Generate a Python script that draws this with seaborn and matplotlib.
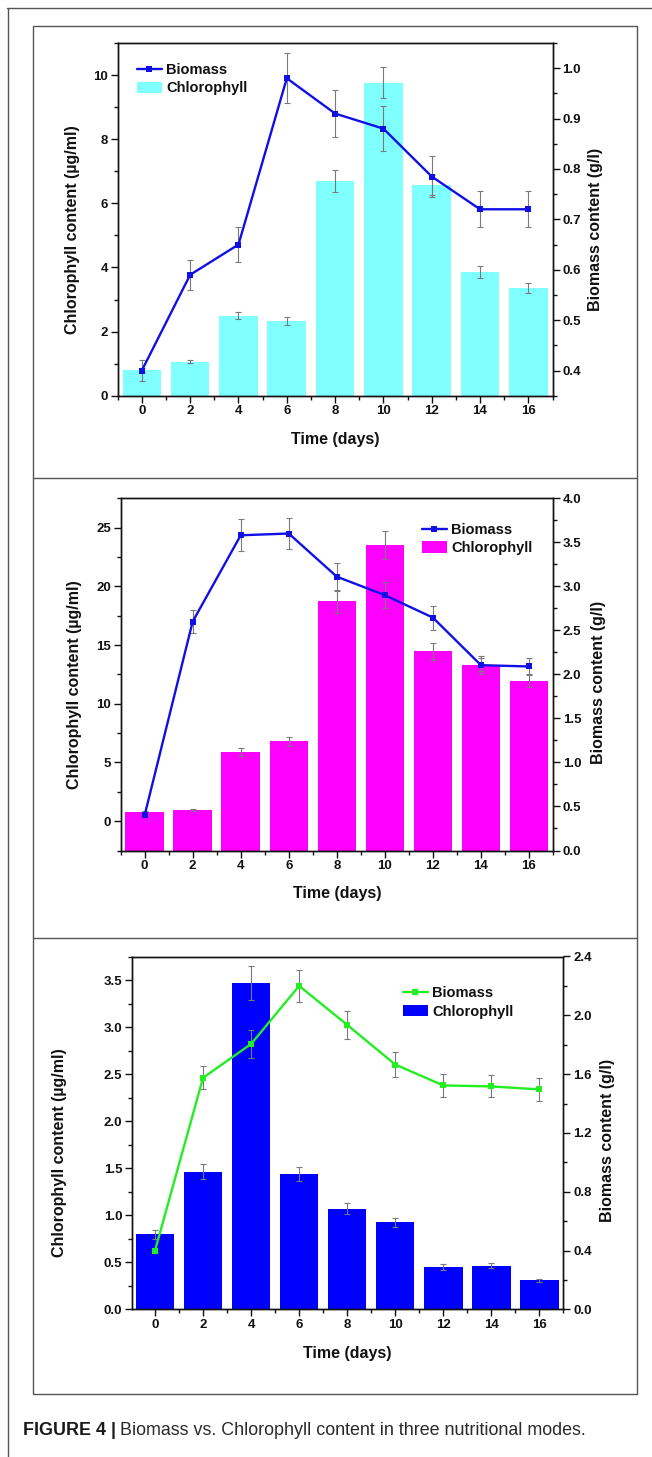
import numpy as np
import pandas as pd
import seaborn as sns
import matplotlib
matplotlib.use("Agg")
import matplotlib.pyplot as plt
from matplotlib.ticker import MultipleLocator, FormatStrFormatter
from matplotlib.lines import Line2D
from matplotlib.patches import Rectangle
from matplotlib import font_manager

# ---------------- data ----------------
days = [0, 2, 4, 6, 8, 10, 12, 14, 16]

# Panel A (cyan bars)
chl_a = [0.80, 1.06, 2.50, 2.32, 6.70, 9.76, 6.57, 3.86, 3.35]
chl_a_err = [0.05, 0.05, 0.12, 0.13, 0.35, 0.49, 0.30, 0.19, 0.16]
bio_a = [0.40, 0.59, 0.65, 0.98, 0.91, 0.88, 0.785, 0.72, 0.72]
bio_a_err = [0.02, 0.03, 0.034, 0.05, 0.046, 0.044, 0.04, 0.036, 0.036]

# Panel B (magenta bars)
chl_b = [0.80, 0.95, 5.85, 6.81, 18.72, 23.55, 14.47, 13.34, 11.97]
chl_b_err = [0.05, 0.05, 0.34, 0.38, 0.98, 1.18, 0.74, 0.55, 0.57]
bio_b = [0.40, 2.60, 3.58, 3.60, 3.11, 2.90, 2.645, 2.105, 2.09]
bio_b_err = [0.02, 0.13, 0.18, 0.18, 0.16, 0.15, 0.136, 0.10, 0.10]

# Panel C (blue bars)
chl_c = [0.80, 1.46, 3.47, 1.44, 1.07, 0.925, 0.45, 0.463, 0.31]
chl_c_err = [0.048, 0.08, 0.18, 0.074, 0.057, 0.05, 0.027, 0.025, 0.015]
bio_c = [0.40, 1.575, 1.805, 2.20, 1.935, 1.665, 1.523, 1.516, 1.496]
bio_c_err = [0.01, 0.077, 0.096, 0.107, 0.097, 0.086, 0.077, 0.075, 0.076]

xlabel = "Time (days)"
ylabel_left = "Chlorophyll content (µg/ml)"
ylabel_right = "Biomass content (g/l)"
legend_labels = ["Biomass", "Chlorophyll"]
caption_bold = "FIGURE 4 |"
caption_text = "Biomass vs. Chlorophyll content in three nutritional modes."

# ---------------- style ----------------
sns.set_theme(style="ticks")
plt.rcParams["font.family"] = ["Liberation Sans", "DejaVu Sans"]
plt.rcParams["font.weight"] = "bold"
plt.rcParams["axes.labelweight"] = "bold"
plt.rcParams["axes.linewidth"] = 1.0
plt.rcParams["axes.edgecolor"] = "#111111"
plt.rcParams["xtick.color"] = "#111111"
plt.rcParams["ytick.color"] = "#111111"
plt.rcParams["text.color"] = "#111111"
plt.rcParams["axes.labelcolor"] = "#111111"

W, H = 652, 1457
fig = plt.figure(figsize=(W / 100, H / 100), dpi=100)


def fx(px):
    return px / W


def fy(py):
    return 1 - py / H


ERR_KW = dict(fmt="none", ecolor="#7a7a7a", elinewidth=0.8, capsize=2.5, capthick=0.8)


def draw_panel(box, chl, chl_err, bio, bio_err, bar_color, line_color,
               xlim, ylim_l, ylim_r, loc_l, fmt_l, loc_r, fmt_r,
               lab_l, lab_r, lab_x, leg_anchor):
    x0, y0, x1, y1 = box  # pixel coords: left, top, right, bottom
    ax = fig.add_axes([fx(x0), fy(y1), (x1 - x0) / W, (y1 - y0) / H])
    sns.barplot(x=days, y=chl, native_scale=True, color=bar_color, saturation=1,
                width=0.8, errorbar=None, ax=ax, edgecolor="none", linewidth=0)
    base = ylim_l[0]
    if base != 0:
        for p in ax.patches:
            h = p.get_height()
            p.set_y(base)
            p.set_height(h - base)
    ax.errorbar(days, chl, yerr=chl_err, zorder=3, **ERR_KW)
    ax.set_xlim(*xlim)
    ax.set_ylim(*ylim_l)
    ax.xaxis.set_major_locator(MultipleLocator(2))
    ax.xaxis.set_minor_locator(MultipleLocator(1))
    ax.xaxis.set_major_formatter(FormatStrFormatter("%d"))
    ax.yaxis.set_major_locator(MultipleLocator(loc_l[0]))
    ax.yaxis.set_minor_locator(MultipleLocator(loc_l[1]))
    ax.yaxis.set_major_formatter(FormatStrFormatter(fmt_l))
    ax.tick_params(which="major", direction="out", length=5, width=1, labelsize=9.5, pad=2)
    ax.tick_params(which="minor", direction="out", length=3, width=1)
    ax.tick_params(top=False, right=False, which="both")

    ax2 = ax.twinx()
    sns.lineplot(x=days, y=bio, ax=ax2, color=line_color, linewidth=1.7, marker="s",
                 markersize=5, markeredgewidth=0, errorbar=None, legend=False, zorder=4)
    ax2.errorbar(days, bio, yerr=bio_err, zorder=2, **ERR_KW)
    ax2.set_ylim(*ylim_r)
    ax2.yaxis.set_major_locator(MultipleLocator(loc_r[0]))
    ax2.yaxis.set_minor_locator(MultipleLocator(loc_r[1]))
    ax2.yaxis.set_major_formatter(FormatStrFormatter(fmt_r))
    ax2.tick_params(which="major", direction="out", length=5, width=1, labelsize=9.5, pad=2)
    ax2.tick_params(which="minor", direction="out", length=3, width=1)
    for s in ax2.spines.values():
        s.set_linewidth(1.0)

    ax.set_xlabel(xlabel, fontsize=11.5)
    ax.set_ylabel(ylabel_left, fontsize=11.5)
    ax2.set_ylabel(ylabel_right, fontsize=11.5)
    ax.yaxis.set_label_coords(lab_l[0], lab_l[1])
    ax.yaxis.label.set_verticalalignment("center")
    ax2.yaxis.set_label_coords(lab_r[0], lab_r[1])
    ax2.yaxis.label.set_verticalalignment("center")
    ax.xaxis.set_label_coords(lab_x[0], lab_x[1])
    ax.xaxis.label.set_verticalalignment("center")

    handles = [ax2.lines[0], ax.patches[0]]
    ax2.legend(handles, legend_labels, loc="upper left", bbox_to_anchor=leg_anchor,
               frameon=False, prop=dict(size=10.5, weight="bold"), handlelength=1.7,
               handleheight=0.85, handletextpad=0.3, labelspacing=0.3, borderpad=0,
               borderaxespad=0, numpoints=1)
    return ax, ax2


draw_panel((117.7, 43, 552.5, 395.7), chl_a, chl_a_err, bio_a, bio_a_err,
           "#80FFFF", "#1010E6", (-1, 17), (0, 11), (0.35, 1.05),
           (2, 1), "%d", (0.1, 0.05), "%.1f",
           (-0.103, 0.47), (1.098, 0.47), (0.5, -0.123), (0.044, 0.943))

draw_panel((120.6, 498.3, 553, 850.5), chl_b, chl_b_err, bio_b, bio_b_err,
           "#FF00FF", "#1010E6", (-1, 17), (-2.5, 27.5), (0, 4),
           (5, 2.5), "%d", (0.5, 0.25), "%.1f",
           (-0.1055, 0.47), (1.106, 0.477), (0.5, -0.1235), (0.697, 0.93))

draw_panel((132.2, 956.5, 563.4, 1309.3), chl_c, chl_c_err, bio_c, bio_c_err,
           "#0000FF", "#22EE22", (-0.95, 17), (0, 3.75), (0, 2.4),
           (0.5, 0.25), "%.1f", (0.4, 0.2), "%.1f",
           (-0.1675, 0.443), (1.103, 0.478), (0.498, -0.124), (0.628, 0.916))

# ---------------- frames ----------------
frame_col = "#555555"
fig.add_artist(Line2D([fx(7), fx(652)], [fy(8), fy(8)], color=frame_col, lw=1.0))
fig.add_artist(Line2D([fx(7.5), fx(7.5)], [fy(8), fy(1457)], color=frame_col, lw=1.0))
fig.add_artist(Rectangle((fx(33), fy(1394)), (636.7 - 33) / W, (1394 - 26) / H,
                         fill=False, edgecolor=frame_col, lw=1.0, transform=fig.transFigure))
for yy in (477.7, 938.3):
    fig.add_artist(Line2D([fx(33), fx(636.7)], [fy(yy), fy(yy)], color=frame_col, lw=1.0))

# ---------------- caption ----------------
names = {f.name for f in font_manager.fontManager.ttflist}
if "Liberation Sans Narrow" in names:
    cap_fam, cap_size = ["Liberation Sans Narrow", "DejaVu Sans"], 14.5
else:
    cap_fam, cap_size = ["Liberation Sans", "DejaVu Sans"], 12.9
t1 = fig.text(fx(23), fy(1435), caption_bold, family=cap_fam, size=cap_size,
              weight="bold", color="#1a1a1a", va="baseline")
fig.canvas.draw()
bb = t1.get_window_extent()
fig.text((bb.x1 + 4) / W, fy(1435), caption_text, family=cap_fam, size=cap_size,
         weight="normal", color="#2a2a2a", va="baseline")

fig.savefig("out.png", dpi=100)
